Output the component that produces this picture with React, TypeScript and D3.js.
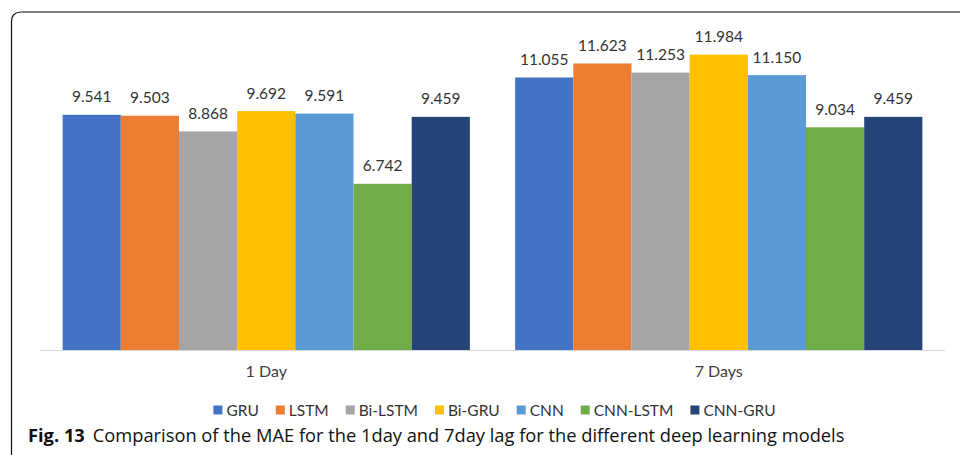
import React, {useRef, useEffect} from 'react';
import * as d3 from 'd3';

// 数据
const lags = ['1 Day', '7 Days'];
const models = ['GRU', 'LSTM', 'Bi-LSTM', 'Bi-GRU', 'CNN', 'CNN-LSTM', 'CNN-GRU'];
const colors = ['#4472C4', '#ED7D31', '#A5A5A5', '#FFC000', '#5B9BD5', '#70AD47', '#264478'];
const day1 = [9.541, 9.503, 8.868, 9.692, 9.591, 6.742, 9.459];
const day7 = [11.055, 11.623, 11.253, 11.984, 11.150, 9.034, 9.459];
const yMax = 14;

const W = 960;
const H = 455;
const FONT = 'Lato, "Open Sans", sans-serif';

export default function App() {
  const ref = useRef<SVGSVGElement>(null);

  useEffect(() => {
    const svg = d3.select(ref.current);
    svg.selectAll('*').remove();

    // 外框：左上圆角
    const r = 10;
    svg.append('path')
      .attr('d', `M11.5,455 L11.5,${12 + r} Q11.5,12 ${11.5 + r},12`)
      .attr('fill', 'none').attr('stroke', '#111').attr('stroke-width', 1.2);
    svg.append('line')
      .attr('x1', 11.5 + r).attr('x2', W).attr('y1', 12).attr('y2', 12)
      .attr('stroke', '#808080').attr('stroke-width', 2);

    const baseY = 350;
    const x0 = d3.scaleBand().domain(lags).range([40, 945]).paddingInner(0.1).paddingOuter(0.05);
    const x1 = d3.scaleBand().domain(models).range([0, x0.bandwidth()]);
    const y = d3.scaleLinear().domain([0, yMax]).range([baseY, 4.9]);

    const series = [day1, day7];

    // 柱子
    const groups = svg.selectAll('g.grp')
      .data(lags)
      .enter()
      .append('g')
      .attr('class', 'grp')
      .attr('transform', d => `translate(${x0(d)},0)`);

    groups.each(function (lag, gi) {
      const g = d3.select(this);
      const vals = series[gi].map((v, i) => ({model: models[i], value: v, color: colors[i]}));
      g.selectAll('rect')
        .data(vals)
        .enter()
        .append('rect')
        .attr('x', d => x1(d.model)!)
        .attr('width', x1.bandwidth())
        .attr('y', d => y(d.value))
        .attr('height', d => baseY - y(d.value))
        .attr('fill', d => d.color);
      g.selectAll('text.val')
        .data(vals)
        .enter()
        .append('text')
        .attr('class', 'val')
        .attr('x', d => x1(d.model)! + x1.bandwidth() / 2)
        .attr('y', d => y(d.value) - 12.5)
        .attr('text-anchor', 'middle')
        .attr('font-family', FONT)
        .attr('font-size', 15.5)
        .attr('fill', '#333')
        .text(d => d.value.toFixed(3));
    });

    // 坐标轴线
    svg.append('line')
      .attr('x1', 40).attr('x2', 945).attr('y1', baseY + 0.5).attr('y2', baseY + 0.5)
      .attr('stroke', '#d9d9d9').attr('stroke-width', 1);

    svg.selectAll('text.cat')
      .data(lags)
      .enter()
      .append('text')
      .attr('class', 'cat')
      .attr('x', d => x0(d)! + x0.bandwidth() / 2)
      .attr('y', 377)
      .attr('text-anchor', 'middle')
      .attr('font-family', FONT)
      .attr('font-size', 16)
      .attr('fill', '#404040')
      .text(d => d);

    // 图例
    const legend = svg.append('g');
    const sq = 9, gapText = 4, gapItem = 17;
    let cx = 0;
    models.forEach((m, i) => {
      const item = legend.append('g').attr('transform', `translate(${cx},0)`);
      item.append('rect')
        .attr('x', 0).attr('y', -sq / 2)
        .attr('width', sq).attr('height', sq)
        .attr('fill', colors[i]);
      const t = item.append('text')
        .attr('x', sq + gapText)
        .attr('y', 5.5)
        .attr('font-family', FONT)
        .attr('font-size', 15.5)
        .attr('fill', '#333')
        .text(m);
      const tw = (t.node() as SVGTextElement).getComputedTextLength();
      cx += sq + gapText + tw + gapItem;
    });
    const total = cx - gapItem;
    legend.attr('transform', `translate(${494.5 - total / 2},410)`);

    // 图注
    const cap = svg.append('text')
      .attr('x', 28)
      .attr('y', 442)
      .attr('font-family', '"Open Sans", "Noto Sans", sans-serif')
      .attr('font-size', 18.3)
      .attr('fill', '#111');
    cap.append('tspan').attr('font-weight', 'bold').text('Fig. 13');
    cap.append('tspan').attr('dx', 8).text('Comparison of the MAE for the 1day and 7day lag for the different deep learning models');
  }, []);

  return (
    <div style={{position: 'absolute', top: 0, left: 0}}>
      <svg ref={ref} width={W} height={H} style={{display: 'block', background: '#fff'}}></svg>
    </div>
  );
}
